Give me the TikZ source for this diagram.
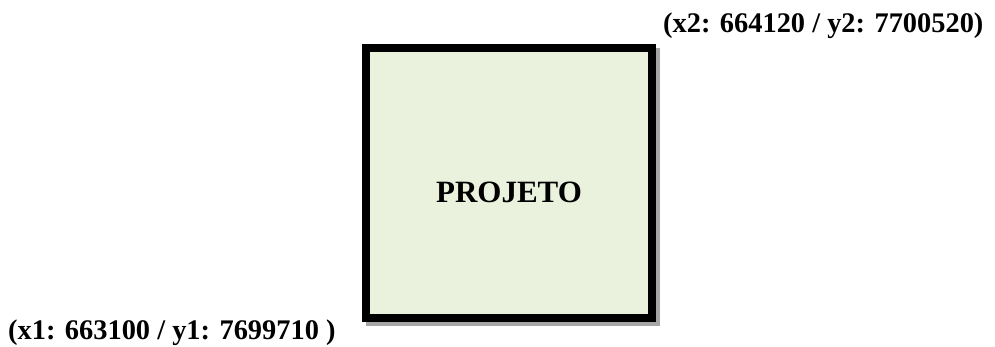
\documentclass[tikz,border=0pt]{standalone}
\usepackage{fontspec}
\setmainfont{Liberation Serif}
\definecolor{boxfill}{HTML}{EAF1DD}
\definecolor{shadowgray}{HTML}{A6A6A6}
\begin{document}
\begin{tikzpicture}[x=1pt,y=-1pt,
  lbl/.style={font=\fontsize{28.4}{30}\selectfont\bfseries, inner sep=0pt},
  mainbox/.style={draw=black, line width=8pt, fill=boxfill, minimum width=286pt, minimum height=270pt, inner sep=0pt},
  shadowbox/.style={fill=shadowgray, draw=none, minimum width=294pt, minimum height=278pt, inner sep=0pt}]
\useasboundingbox (0,0) rectangle (995,347);
\node[shadowbox] (shadow) at (513,187) {};
\node[mainbox] (box) at (509,183) {};
\node[font=\fontsize{31}{33}\selectfont\bfseries, inner sep=0pt, anchor=base] (title) at (509,203) {PROJETO};
\node[lbl, anchor=base west] (p2) at (663,33) {(x2: 664120 / y2: 7700520)};
\node[lbl, anchor=base west] (p1) at (8,339) {(x1: 663100 / y1: 7699710 )};
\end{tikzpicture}
\end{document}
